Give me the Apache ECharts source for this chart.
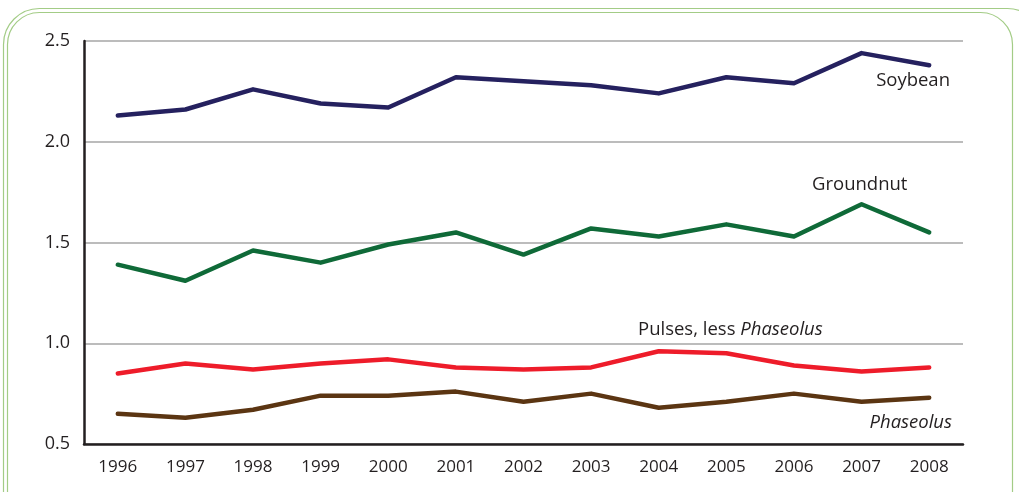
<!DOCTYPE html>
<html>
<head>
<meta charset="utf-8">
<script src="https://cdn.jsdelivr.net/npm/echarts@6/dist/echarts.min.js"></script>
<style>
  html, body { margin: 0; padding: 0; background: #fff; }
  #chart { width: 1019px; height: 492px; }
</style>
</head>
<body>
<div id="chart"></div>
<script>
var years = ['1996','1997','1998','1999','2000','2001','2002','2003','2004','2005','2006','2007','2008'];
var soybean   = [2.13, 2.16, 2.26, 2.19, 2.17, 2.32, 2.30, 2.28, 2.24, 2.32, 2.29, 2.44, 2.38];
var groundnut = [1.39, 1.31, 1.46, 1.40, 1.49, 1.55, 1.44, 1.57, 1.53, 1.59, 1.53, 1.69, 1.55];
var pulses    = [0.85, 0.90, 0.87, 0.90, 0.92, 0.88, 0.87, 0.88, 0.96, 0.95, 0.89, 0.86, 0.88];
var phaseolus = [0.65, 0.63, 0.67, 0.74, 0.74, 0.76, 0.71, 0.75, 0.68, 0.71, 0.75, 0.71, 0.73];

var font = '"Open Sans", "Noto Sans", sans-serif';
var ink = '#231f20';
var chart = echarts.init(document.getElementById('chart'));

function line(name, data, color) {
    return {
        name: name,
        type: 'line',
        data: data,
        symbol: 'none',
        lineStyle: { color: color, width: 4.5, cap: 'round', join: 'round' },
        itemStyle: { color: color }
    };
}

var option = {
    animation: false,
    grid: { left: 84, right: 56, top: 41, bottom: 48 },
    xAxis: {
        type: 'category',
        data: years,
        boundaryGap: true,
        axisLine: { lineStyle: { color: ink, width: 2.5 } },
        axisTick: { inside: true, length: 9, lineStyle: { color: ink, width: 2 } },
        axisLabel: { color: ink, fontSize: 17, fontFamily: font, margin: 15 }
    },
    yAxis: {
        type: 'value',
        min: 0.5,
        max: 2.5,
        interval: 0.5,
        axisLine: { show: true, lineStyle: { color: ink, width: 2.5 } },
        axisTick: { show: false },
        axisLabel: {
            color: ink, fontSize: 18, fontFamily: font, margin: 14,
            formatter: function (v) { return v.toFixed(1); }
        },
        splitLine: { lineStyle: { color: '#a6a6a6', width: 1.5 } }
    },
    series: [
        line('Soybean', soybean, '#25215f'),
        line('Groundnut', groundnut, '#0f6a38'),
        line('Pulses, less Phaseolus', pulses, '#ee1c2a'),
        line('Phaseolus', phaseolus, '#5b3512')
    ],
    graphic: [
        { type: 'rect', silent: true, shape: { x: 3.5, y: 8.5, width: 1040, height: 520, r: 36 },
          style: { fill: 'none', stroke: '#a3cc86', lineWidth: 1.2 } },
        { type: 'rect', silent: true, shape: { x: 7.5, y: 12.5, width: 1005, height: 520, r: 32 },
          style: { fill: 'none', stroke: '#a3cc86', lineWidth: 1.2 } },
        { type: 'text', x: 950, y: 81,
          style: { text: 'Soybean', fill: ink, font: '18.5px ' + font, align: 'right', verticalAlign: 'middle' } },
        { type: 'text', x: 812, y: 185,
          style: { text: 'Groundnut', fill: ink, font: '18.5px ' + font, align: 'left', verticalAlign: 'middle' } },
        { type: 'text', x: 638, y: 330,
          style: { text: '{n|Pulses, less }{i|Phaseolus}', align: 'left', verticalAlign: 'middle',
                   rich: {
                       n: { fill: ink, fontSize: 18.5, fontFamily: font },
                       i: { fill: ink, fontSize: 18.5, fontFamily: font, fontStyle: 'italic' }
                   } } },
        { type: 'text', x: 952, y: 423,
          style: { text: 'Phaseolus', fill: ink, font: 'italic 18.5px ' + font, align: 'right', verticalAlign: 'middle' } }
    ]
};
chart.setOption(option);
</script>
</body>
</html>
